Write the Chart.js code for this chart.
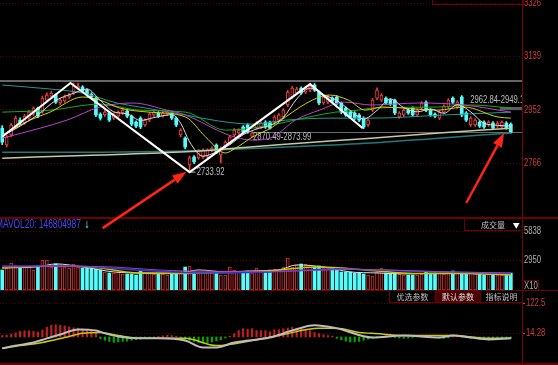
<!DOCTYPE html>
<html>
<head>
<meta charset="utf-8">
<script src="https://cdn.jsdelivr.net/npm/chart.js@4.4.1/dist/chart.umd.min.js"></script>
<style>
  html, body { margin: 0; padding: 0; background: #000; }
  #wrap { position: relative; width: 558px; height: 365px; overflow: hidden; background: #000; }
  canvas { position: absolute; left: 0; }
  .hl { position: absolute; left: 0; width: 558px; height: 1px; background: #6e0000; }
  .txt { position: absolute; white-space: nowrap; font-family: "Liberation Sans", sans-serif; transform: scaleX(0.7); transform-origin: 0 0; }
  .cjk { position: absolute; white-space: nowrap; font-family: "Noto Sans CJK SC", sans-serif; font-size: 8px; line-height: 12px; color: #c0c0c0; text-align: center; box-sizing: border-box; border: 1px solid #6e0000; }
</style>
</head>
<body>
<div id="wrap">
  <canvas id="vol" width="558" height="72" style="top:218px"></canvas>
  <canvas id="macd" width="558" height="73" style="top:290px"></canvas>
  <div class="hl" style="top:217px;height:2px"></div>
  <div class="hl" style="top:290px"></div>
  <div class="hl" style="top:363px;height:2px"></div>
  <div class="cjk" style="left:464px;top:218px;width:59px;height:13px;text-align:left;padding-left:16px">成交量 <span style="color:#fff;font-size:7px;margin-left:6px">&#9660;</span></div>
  <div class="cjk" style="left:389px;top:290px;width:47px;height:13px">优选参数</div>
  <div class="cjk" style="left:435px;top:290px;width:46px;height:13px;background:#4a0000;color:#e0e0e0">默认参数</div>
  <div class="cjk" style="left:480px;top:290px;width:43px;height:13px">指标说明</div>
  <div style="position:absolute;left:522px;top:280px;width:15px;height:9px;border:1px solid #6e0000"></div>
  <div class="txt" style="left:524px;top:280px;font-size:11px;line-height:10px;color:#b0b0b0">X10</div>
  <div style="position:absolute;left:432px;top:-1px;width:90px;height:4px;border:1px solid #6e0000"></div>
  <canvas id="main" width="558" height="365" style="top:0"></canvas>
</div>
<script>
// ---- data ----
const opens = [
  2888,2829,2864,2892,2916,2906,2923,2937,2958,2944,
  2986,3000,3004,2976,2983,2997,3011,3028,3032,3021,
  3007,2993,2937,2934,2941,2923,2930,2941,2948,2930,
  2909,2923,2899,2916,2934,2941,2930,2937,2941,2923,
  2864,2853,2759,2787,2784,2787,2790,2811,2829,2794,
  2822,2836,2864,2871,2892,2899,2860,2888,2892,2909,
  2909,2909,2916,2927,2969,2997,3011,3028,3014,3021,
  3039,3014,2976,2979,2993,2997,2976,2958,2944,2941,
  2934,2923,2899,2951,2993,2986,2993,2986,2986,2927,
  2934,2951,2958,2934,2958,2979,2951,2937,2923,2944,
  2962,2993,2962,2997,2941,2899,2899,2909,2909,2899,
  2906,2895,2892,2906,2902
];
const closes = [
  2839,2857,2899,2923,2906,2930,2944,2958,2930,2993,
  3004,3011,2979,2986,2997,3004,3035,3035,3018,3007,
  2997,2934,2923,2944,2916,2937,2944,2951,2930,2902,
  2895,2892,2916,2937,2944,2930,2941,2944,2923,2899,
  2881,2822,2784,2770,2808,2811,2811,2818,2804,2818,
  2839,2857,2881,2881,2874,2874,2871,2906,2906,2892,
  2888,2927,2934,2951,3014,3028,3025,3011,3028,3035,
  3021,2976,2997,2997,2983,2976,2944,2934,2927,2923,
  2916,2892,2916,2986,3021,3004,2976,2972,2941,2941,
  2951,2941,2934,2951,2976,2951,2934,2930,2944,2965,
  2986,2979,2979,2934,2916,2923,2916,2895,2892,2909,
  2888,2906,2909,2888,2874
];
const highs = [
  2897,2862,2905,2930,2924,2936,2950,2963,2962,3000,
  3012,3018,3008,2992,3004,3010,3046,3046,3037,3026,
  3012,2998,2942,2950,2946,2942,2949,2956,2953,2934,
  2914,2928,2921,2943,2950,2946,2947,2950,2946,2927,
  2886,2858,2790,2792,2813,2816,2816,2823,2833,2823,
  2844,2862,2887,2886,2897,2904,2876,2911,2911,2914,
  2913,2932,2939,2956,3020,3034,3031,3033,3034,3042,
  3044,3018,3003,3002,2998,3002,2980,2962,2949,2946,
  2939,2928,2921,2992,3029,3009,2998,2991,2990,2946,
  2956,2956,2963,2956,2981,2984,2956,2942,2949,2970,
  2991,2998,2984,3002,2946,2928,2921,2914,2914,2914,
  2911,2911,2914,2911,2907
];
const lows = [
  2830,2822,2858,2886,2900,2901,2918,2932,2925,2940,
  2981,2995,2974,2970,2978,2992,3006,3022,3012,3000,
  2990,2928,2916,2929,2911,2918,2925,2936,2925,2896,
  2890,2886,2894,2911,2929,2925,2926,2932,2918,2893,
  2858,2815,2734,2764,2779,2782,2785,2806,2799,2766,
  2817,2831,2859,2866,2869,2870,2856,2884,2887,2887,
  2884,2904,2911,2922,2963,2992,3006,3006,3009,3016,
  3016,2970,2971,2974,2978,2971,2938,2929,2922,2918,
  2911,2886,2894,2946,2988,2981,2971,2967,2935,2922,
  2929,2936,2929,2929,2953,2946,2929,2925,2918,2939,
  2957,2974,2957,2928,2911,2894,2894,2890,2887,2894,
  2883,2890,2887,2884,2870
];
const volumes = [
  1990,2190,2690,2490,2190,2290,2290,1990,2390,2990,
  2990,2290,2590,2490,2290,2190,2590,2290,2190,2190,
  2190,2090,1990,1790,1690,1690,1790,1590,1590,1590,
  1490,1890,1690,1690,1590,1590,1590,1490,1590,1790,
  1890,2290,2390,1790,1790,1690,1690,1690,1690,1490,
  1490,2290,1990,1790,1790,1890,1690,2190,1790,1890,
  1990,2090,1890,2290,3190,2290,2490,2590,2590,2290,
  2290,2390,2190,2190,2090,1990,1790,1790,1790,1690,
  1690,1590,1490,1390,1790,2190,1690,1690,1690,1590,
  1490,1490,1490,1490,1590,1790,1690,1690,1690,1590,
  1790,1890,1790,1690,1690,1690,1590,1590,1490,1590,
  1490,1490,1490,1490,1690
];
const macdHist = [
  5,6,10,15,20,22,22,20,18,25,
  35,42,44,42,40,36,33,32,30,28,
  24,14,-6,-12,-16,-19,-18,-16,-15,-12,
  -10,-8,-6,-4,-3,2,4,6,5,3,
  -3,-8,-12,-16,-20,-22,-20,-18,-14,-10,
  -4,3,12,23,30,28,30,23,23,23,
  18,26,26,30,32,35,32,30,25,23,
  16,12,8,5,3,-5,-10,-15,-18,-18,
  -16,-12,-8,-5,-3,2,4,3,-2,-4,
  -5,-4,-2,1,3,4,2,-2,-4,-5,
  -3,2,3,2,-2,-4,-6,-8,-8,-6,
  -5,-4,-5,-6,-5
];

// moving averages, sampled as [candle index, value]
const ma5Pts = [[0,2860],[4,2895],[8,2935],[12,2985],[16,3010],[19,3025],[22,2985],[25,2945],[28,2938],[31,2915],[34,2925],[38,2935],[40,2905],[42,2840],[45,2790],[48,2805],[51,2830],[54,2865],[57,2885],[60,2898],[63,2925],[66,2990],[69,3028],[72,3005],[75,2985],[78,2950],[81,2920],[84,2950],[87,2990],[90,2960],[93,2945],[96,2955],[99,2940],[102,2970],[105,2945],[108,2905],[111,2898],[114,2895]];
const ma10Pts = [[0,2864],[6.2,2916],[10.7,2944],[18,2997],[21.9,2986],[26.4,2958],[33,2944],[41.1,2927],[45.6,2857],[50,2801],[52.3,2818],[56.1,2857],[60.6,2892],[63.5,2927],[69.5,2986],[73.3,3004],[77.6,2986],[81.4,2951],[85,2962],[97.7,2951],[103.5,2962],[111.1,2927],[114,2923]];
const ma20Pts = [[0,2853],[8.5,2888],[14.5,2916],[21.9,2962],[29.3,2976],[36.9,2951],[41.1,2934],[50.7,2864],[56.1,2846],[60.6,2857],[65.7,2916],[71.1,2951],[76.7,2979],[82.7,2969],[93.5,2976],[103.5,2969],[114,2944]];
const ma30Pts = [[0,2944],[10.7,2951],[21.9,2972],[30.8,2951],[41.1,2944],[50,2881],[56.1,2888],[63.5,2909],[68.7,2927],[74.7,2944],[79.8,2951],[82.7,2958],[97.7,2962],[105.1,2969],[114,2958]];
const ma60Pts = [[0,3039],[8.5,3028],[18,3011],[25.7,2976],[30.8,2962],[41.1,2934],[48.5,2913],[56.1,2902],[63.5,2916],[73.3,2923],[82.7,2923],[99.1,2934],[114,2944]];
const ma120Pts = [[0,2783],[21.9,2794],[41.1,2805],[63.5,2832],[82.7,2853],[97.9,2871],[114,2888]];
const ma250Pts = [[0,2804],[21.9,2804],[41.1,2808],[63.5,2822],[82.7,2836],[97.9,2853],[114,2871]];
const zigzagPts = [[0,2858],[15.3,3046],[42,2734],[69,3042],[80.8,2888]];

const volMa5Pts = [[0,2200],[8,2300],[12,2600],[18,2300],[25,1800],[32,1700],[40,1700],[44,2000],[50,1800],[56,1900],[62,2000],[66,2500],[72,2300],[78,1800],[84,1700],[90,1600],[100,1700],[108,1600],[114,1550]];
const volMa10Pts = [[0,2200],[10,2400],[20,2300],[30,1700],[40,1650],[50,1750],[60,1900],[70,2300],[76,2200],[84,1900],[92,1650],[104,1650],[114,1500]];
const volMa20Pts = [[0,2400],[15,2400],[30,2000],[45,1700],[60,1800],[75,2100],[90,1900],[105,1750],[114,1650]];
const volMa30Pts = [[0,2300],[20,2350],[40,1900],[60,1850],[80,2050],[100,1800],[114,1700]];

const difPts = [[0,-41],[2,-34],[7,-20],[10,-5],[13,9],[17,27],[21,23],[23,13],[26,2],[31,-5],[35,-5],[41,-13],[45,-38],[48,-38],[52,-20],[60,-2],[65,23],[70,42],[75,31],[83,-2],[90,5],[98,-2],[101,5],[105,-2],[109,-9],[114,-5]];
const deaPts = [[0,-41],[4,-31],[9,-20],[14,-2],[18,13],[22,16],[26,5],[31,-5],[37,-5],[41,-5],[48,-31],[56,-13],[63,9],[71,31],[75,31],[80,16],[83,13],[90,5],[101,5],[109,-5],[114,-5]];

const priceTicks = [3326, 3139, 2952, 2766];
const volTicks = [5838, 2950];
const macdTicks = [122.5, 14.28];
const volHeader = 'MAVOL20: 146804987';

// annotations in data units
const resistancePrice = 3053;
const gapLine = { from: 56, price: 2874 };
const gapBand = { from: 111.5, lo: 2951, hi: 2962 };
const priceNotes = [
  { text: '2733.92', x: 43.6, y: 2734 },
  { text: '2870.49-2873.99', x: 56.2, y: 2857 },
  { text: '2962.84-2949.1', x: 104.9, y: 2986 }
];
const arrows = [
  { from: [22.5, 2538], to: [41.3, 2735] },
  { from: [104, 2626], to: [112.5, 2871] }
];

// ---- styling ----
const CYAN = '#54fcfc', RED = '#f03c3c', VRED = '#d43030';
const GRID = '#5a0000', AXIS = '#7a0000', LBL = '#d23c3c';
const FONT = '11px "Liberation Sans", Arial, sans-serif';
const SQUEEZE = 0.7;
const isUp = i => closes[i] >= opens[i];
const xy = pts => pts.map(p => ({ x: p[0], y: p[1] }));

function lineSet(pts, color, order, width, straight) {
  return { type: 'line', data: xy(pts), borderColor: color, borderWidth: width || 1,
    pointRadius: 0, tension: 0, cubicInterpolationMode: straight ? 'default' : 'monotone', order: order };
}

// returns the drawn width
function squeezedText(ctx, text, x, y) {
  ctx.save();
  ctx.translate(x, y);
  ctx.scale(SQUEEZE, 1);
  ctx.fillText(text, 0, 0);
  const w = ctx.measureText(text).width * SQUEEZE;
  ctx.restore();
  return w;
}

function rightAxis(min, max, ticks, tickLen) {
  return {
    position: 'right', min: min, max: max,
    afterFit: s => { s.width = 36; s.paddingTop = 0; s.paddingBottom = 0; },
    afterBuildTicks: s => { s.ticks = ticks.map(v => ({ value: v })); },
    grid: { color: GRID, drawTicks: !!tickLen, tickLength: tickLen || 0, tickColor: LBL },
    border: { display: true, color: AXIS, width: 1, dash: [1, 2] },
    ticks: { display: false }
  };
}
// tick labels drawn narrow, like the terminal's bitmap font
function axisLabels(color, dx) {
  return {
    id: 'axisLabels',
    afterDraw(chart) {
      const { ctx, chartArea: a, scales: { y } } = chart;
      ctx.save();
      ctx.font = FONT; ctx.fillStyle = color; ctx.textBaseline = 'middle';
      y.ticks.forEach(t => squeezedText(ctx, String(t.value), a.right + dx, y.getPixelForValue(t.value)));
      ctx.restore();
    }
  };
}
const volTitle = {
  id: 'volTitle',
  afterDraw(chart) {
    const { ctx, chartArea: a } = chart;
    ctx.save();
    ctx.font = '12px "Liberation Sans", Arial, sans-serif';
    ctx.textBaseline = 'middle';
    ctx.fillStyle = '#4646f4';
    const w = squeezedText(ctx, volHeader, a.left - 4, a.top + 7);
    ctx.fillStyle = CYAN;
    ctx.fillText('\u2193', a.left + w - 1, a.top + 7);
    ctx.restore();
  }
};
const xAxis = { type: 'linear', min: -0.5, max: 116.5, offset: false, display: false };
const base = { responsive: false, animation: false, maintainAspectRatio: false,
  plugins: { legend: { display: false }, tooltip: { enabled: false } } };

// main panel extras: levels, notes, arrows
const mainDecor = {
  id: 'mainDecor',
  beforeDatasetsDraw(chart) {
    const { ctx, chartArea: a, scales: { x, y } } = chart;
    ctx.save();
    ctx.beginPath(); ctx.rect(a.left, a.top, a.right - a.left, a.bottom - a.top); ctx.clip();
    ctx.strokeStyle = '#666'; ctx.lineWidth = 2;
    ctx.beginPath(); ctx.moveTo(a.left, y.getPixelForValue(resistancePrice)); ctx.lineTo(a.right, y.getPixelForValue(resistancePrice)); ctx.stroke();
    ctx.strokeStyle = '#6a6a6a'; ctx.lineWidth = 1;
    const gy = Math.round(y.getPixelForValue(gapLine.price)) + 0.5;
    ctx.beginPath(); ctx.moveTo(x.getPixelForValue(gapLine.from), gy); ctx.lineTo(a.right, gy); ctx.stroke();
    ctx.fillStyle = '#5c5c5c';
    const by1 = y.getPixelForValue(gapBand.hi), by2 = y.getPixelForValue(gapBand.lo);
    ctx.fillRect(x.getPixelForValue(gapBand.from), by1, a.right - x.getPixelForValue(gapBand.from), by2 - by1);
    ctx.fillStyle = '#bdbdbd';
    ctx.font = FONT;
    ctx.textBaseline = 'middle';
    priceNotes.forEach(n => squeezedText(ctx, n.text, x.getPixelForValue(n.x), y.getPixelForValue(n.y)));
    ctx.strokeStyle = '#bdbdbd';
    ctx.beginPath(); ctx.moveTo(x.getPixelForValue(42), y.getPixelForValue(2734)); ctx.lineTo(x.getPixelForValue(43.3), y.getPixelForValue(2734)); ctx.stroke();
    ctx.restore();
  },
  afterDraw(chart) {
    const { ctx, scales: { x, y } } = chart;
    ctx.save();
    ctx.strokeStyle = '#ff2414'; ctx.fillStyle = '#ff2414'; ctx.lineWidth = 2.5;
    arrows.forEach(ar => {
      const x1 = x.getPixelForValue(ar.from[0]), y1 = y.getPixelForValue(ar.from[1]);
      const x2 = x.getPixelForValue(ar.to[0]), y2 = y.getPixelForValue(ar.to[1]);
      const ang = Math.atan2(y2 - y1, x2 - x1), L = 14, W = 5;
      const bx = x2 - L * Math.cos(ang), by = y2 - L * Math.sin(ang);
      ctx.beginPath(); ctx.moveTo(x1, y1); ctx.lineTo(bx, by); ctx.stroke();
      ctx.beginPath();
      ctx.moveTo(x2, y2);
      ctx.lineTo(bx + W * Math.sin(ang), by - W * Math.cos(ang));
      ctx.lineTo(bx - W * Math.sin(ang), by + W * Math.cos(ang));
      ctx.closePath(); ctx.fill();
    });
    ctx.restore();
  }
};

new Chart(document.getElementById('main'), {
  type: 'bar',
  data: { datasets: [
    lineSet(zigzagPts, '#ffffff', 0, 2, true),
    lineSet(ma5Pts, '#dcdcdc', 1),
    lineSet(ma10Pts, '#d2d200', 1),
    lineSet(ma20Pts, '#c040d0', 1),
    lineSet(ma30Pts, '#10b010', 1),
    lineSet(ma60Pts, '#1c9a9a', 1),
    lineSet(ma120Pts, '#c8c8a4', 1, 1.5),
    lineSet(ma250Pts, '#1f7a7a', 1, 1.5),
    { label: 'body', data: opens.map((o, i) => ({ x: i, y: [o, closes[i]] })), barThickness: 3, grouped: false,
      backgroundColor: c => isUp(c.dataIndex) ? '#000' : CYAN,
      borderColor: c => isUp(c.dataIndex) ? RED : CYAN,
      borderWidth: c => isUp(c.dataIndex) ? 1 : 0, borderSkipped: false, order: 2 },
    { label: 'wick', data: lows.map((l, i) => ({ x: i, y: [l, highs[i]] })), barThickness: 1, grouped: false,
      backgroundColor: c => isUp(c.dataIndex) ? RED : CYAN, order: 3 }
  ] },
  options: Object.assign({}, base, {
    layout: { padding: { left: 0, right: 0, top: 0, bottom: 147 } },
    scales: { x: xAxis, y: rightAxis(2573.5, 3336.5, priceTicks, 0) }
  }),
  plugins: [mainDecor, axisLabels(LBL, 2)]
});

new Chart(document.getElementById('vol'), {
  type: 'bar',
  data: { datasets: [
    lineSet(volMa30Pts, '#a040b0', 0),
    lineSet(volMa20Pts, '#3434d8', 0, 1.5),
    lineSet(volMa10Pts, '#c8c800', 0, 1.5),
    lineSet(volMa5Pts, '#e0e0e0', 0),
    { data: volumes.map((v, i) => ({ x: i, y: v })), barThickness: 3, grouped: false,
      backgroundColor: c => isUp(c.dataIndex) ? '#000' : CYAN,
      borderColor: c => isUp(c.dataIndex) ? VRED : CYAN,
      borderWidth: c => isUp(c.dataIndex) ? 1 : 0, borderSkipped: false, order: 1 }
  ] },
  options: Object.assign({}, base, {
    layout: { padding: 0 },
    scales: { x: xAxis, y: rightAxis(0, 7171, volTicks, 0) }
  }),
  plugins: [axisLabels('#b0b0b0', 2), volTitle]
});

new Chart(document.getElementById('macd'), {
  type: 'bar',
  data: { datasets: [
    lineSet(difPts, '#bcbcbc', 0, 2),
    lineSet(deaPts, '#c8c814', 0, 1.5),
    { data: macdHist.map((v, i) => ({ x: i, y: v })), barThickness: 1.5, grouped: false,
      backgroundColor: c => macdHist[c.dataIndex] >= 0 ? '#c02020' : '#00a800', order: 1 }
  ] },
  options: Object.assign({}, base, {
    layout: { padding: 0 },
    scales: { x: xAxis, y: rightAxis(-93.9, 169.4, macdTicks, 3) }
  }),
  plugins: [axisLabels(LBL, 4)]
});
</script>
</body>
</html>
